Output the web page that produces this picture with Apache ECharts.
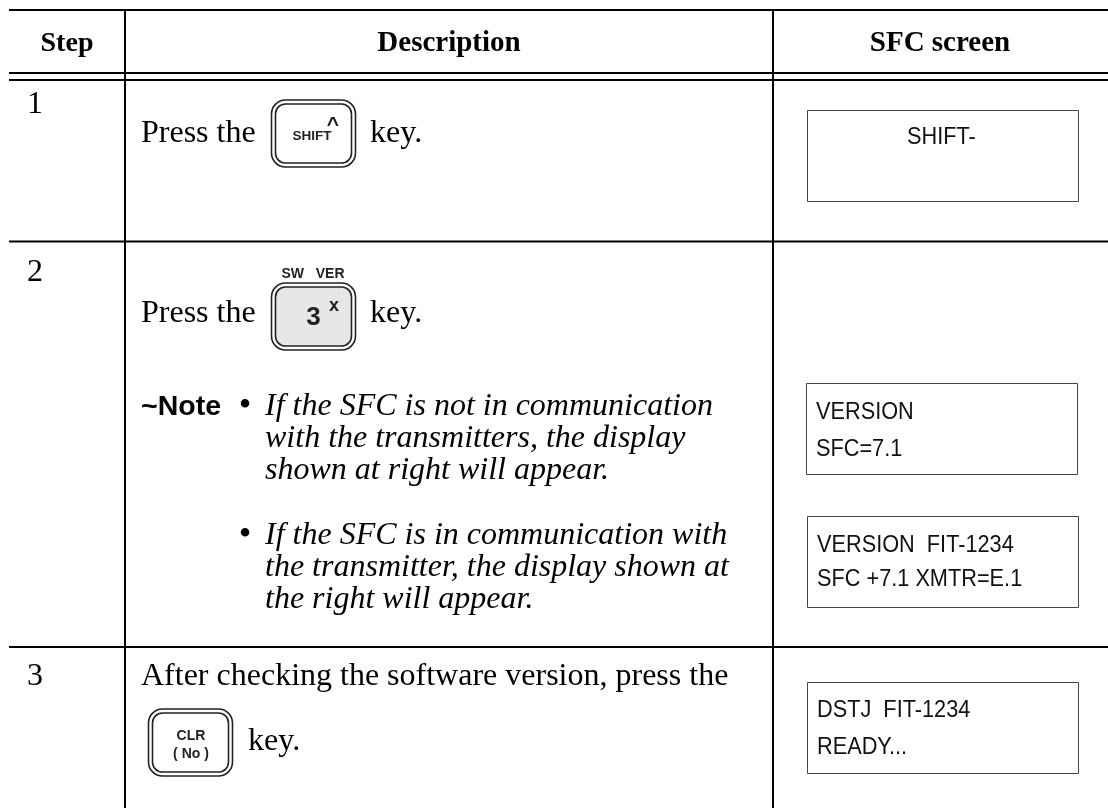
<!DOCTYPE html>
<html>
<head>
<meta charset="utf-8">
<style>
  html, body { margin: 0; padding: 0; background: #fff; }
  #chart1 { width: 1108px; height: 808px; }
</style>
<script src="https://cdn.jsdelivr.net/npm/echarts@6/dist/echarts.min.js"></script>
</head>
<body>
<div id="chart1"></div>
<script>
var headers = ["Step", "Description", "SFC screen"];
var stepNumbers = ["1", "2", "3"];
var pressText = "Press the";
var keyText = "key.";
var noteLabel = "~Note";
var bullet = "•";
var noteOne = ["If the SFC is not in communication", "with the transmitters, the display", "shown at right will appear."];
var noteTwo = ["If the SFC is in communication with", "the transmitter, the display shown at", "the right will appear."];
var stepThreeText = "After checking the software version, press the";
var shiftKey = ["SHIFT", "^"];
var verKey = ["SW   VER", "3", "x"];
var clrKey = ["CLR", "( No )"];
var screenOne = ["SHIFT-"];
var screenTwo = ["VERSION", "SFC=7.1"];
var screenThree = ["VERSION  FIT-1234", "SFC +7.1 XMTR=E.1"];
var screenFour = ["DSTJ  FIT-1234", "READY..."];

var SERIF = '"Liberation Serif", "Times New Roman", serif';
var SANS = '"Liberation Sans", Arial, sans-serif';
var elements = [];

function line(x1, y1, x2, y2, width) {
  elements.push({
    type: "line",
    silent: true,
    shape: { x1: x1, y1: y1, x2: x2, y2: y2 },
    style: { stroke: "#000", lineWidth: width },
  });
}

// y is the text baseline
function label(text, x, y, size, opts) {
  opts = opts || {};
  elements.push({
    type: "text",
    silent: true,
    x: x,
    y: y - size * 0.26,
    scaleX: opts.scaleX || 1,
    style: {
      text: text,
      fill: opts.color || "#000",
      font: (opts.style || "") + " " + size + "px " + (opts.family || SERIF),
      textAlign: opts.align || "left",
      textVerticalAlign: "middle",
    },
  });
}

function keyBox(x, y, w, h, fill) {
  elements.push({
    type: "rect",
    silent: true,
    shape: { x: x, y: y, width: w, height: h, r: 14 },
    style: { fill: "#fff", stroke: "#222", lineWidth: 1.6 },
  });
  elements.push({
    type: "rect",
    silent: true,
    shape: { x: x + 4, y: y + 4, width: w - 8, height: h - 8, r: 10 },
    style: { fill: fill, stroke: "#222", lineWidth: 1.6 },
  });
}

function screenBox(x, y, w, h) {
  elements.push({
    type: "rect",
    silent: true,
    shape: { x: x + 0.5, y: y + 0.5, width: w, height: h },
    style: { fill: "#fff", stroke: "#444", lineWidth: 1 },
  });
}

function screenText(text, x, y) {
  label(text, x, y, 24, { family: SANS, color: "#111", scaleX: 0.905 });
}

var keyLabel = { style: "bold", family: SANS, align: "center", color: "#222" };

// table rules
line(9, 10, 1108, 10, 2);
line(9, 73, 1108, 73, 2);
line(9, 80, 1108, 80, 2);
line(9, 241.5, 1108, 241.5, 2);
line(9, 647, 1108, 647, 2);
line(125, 9, 125, 808, 2);
line(773, 9, 773, 808, 2);

// header
label(headers[0], 67, 51, 28, { style: "bold", align: "center" });
label(headers[1], 449, 51, 29, { style: "bold", align: "center" });
label(headers[2], 940, 51, 29, { style: "bold", align: "center" });

// step numbers
label(stepNumbers[0], 27, 113, 32);
label(stepNumbers[1], 27, 281, 32);
label(stepNumbers[2], 27, 685, 32);

// step 1
label(pressText, 141, 142, 32);
keyBox(271.5, 100, 84, 67, "#fff");
label(shiftKey[0], 312, 140, 13.5, keyLabel);
label(shiftKey[1], 333, 131, 21, keyLabel);
label(keyText, 370, 142, 32);

// step 2
label(pressText, 141, 322, 32);
label(verKey[0], 313, 278, 14, keyLabel);
keyBox(271.5, 283, 84, 67, "#e6e7e8");
label(verKey[1], 313.5, 325, 26, keyLabel);
label(verKey[2], 334, 311, 18, keyLabel);
label(keyText, 370, 322, 32);

label(noteLabel, 141, 415, 28.5, { style: "bold", family: SANS });
label(bullet, 245, 416, 36, { align: "center" });
noteOne.forEach(function (t, i) {
  label(t, 265, 415 + i * 32, 32, { style: "italic" });
});
label(bullet, 245, 545, 36, { align: "center" });
noteTwo.forEach(function (t, i) {
  label(t, 265, 543.5 + i * 32, 32, { style: "italic" });
});

// step 3
label(stepThreeText, 141, 685, 32);
keyBox(148.5, 709, 84, 67, "#fff");
label(clrKey[0], 191, 740, 14, keyLabel);
label(clrKey[1], 191, 758, 14, keyLabel);
label(keyText, 248, 750, 32);

// SFC screens
screenBox(807, 110, 271, 91);
screenText(screenOne[0], 907, 144);
screenBox(806, 383, 271, 91);
screenText(screenTwo[0], 816, 419);
screenText(screenTwo[1], 816, 456);
screenBox(807, 516, 271, 91);
screenText(screenThree[0], 817, 552);
screenText(screenThree[1], 817, 586);
screenBox(807, 682, 271, 91);
screenText(screenFour[0], 817, 717);
screenText(screenFour[1], 817, 754);

var chartDom = document.getElementById("chart1");
var myChart = echarts.init(chartDom);
var option = {
  backgroundColor: "#fff",
  animation: false,
  graphic: { elements: elements },
};
option && myChart.setOption(option);
</script>
</body>
</html>
